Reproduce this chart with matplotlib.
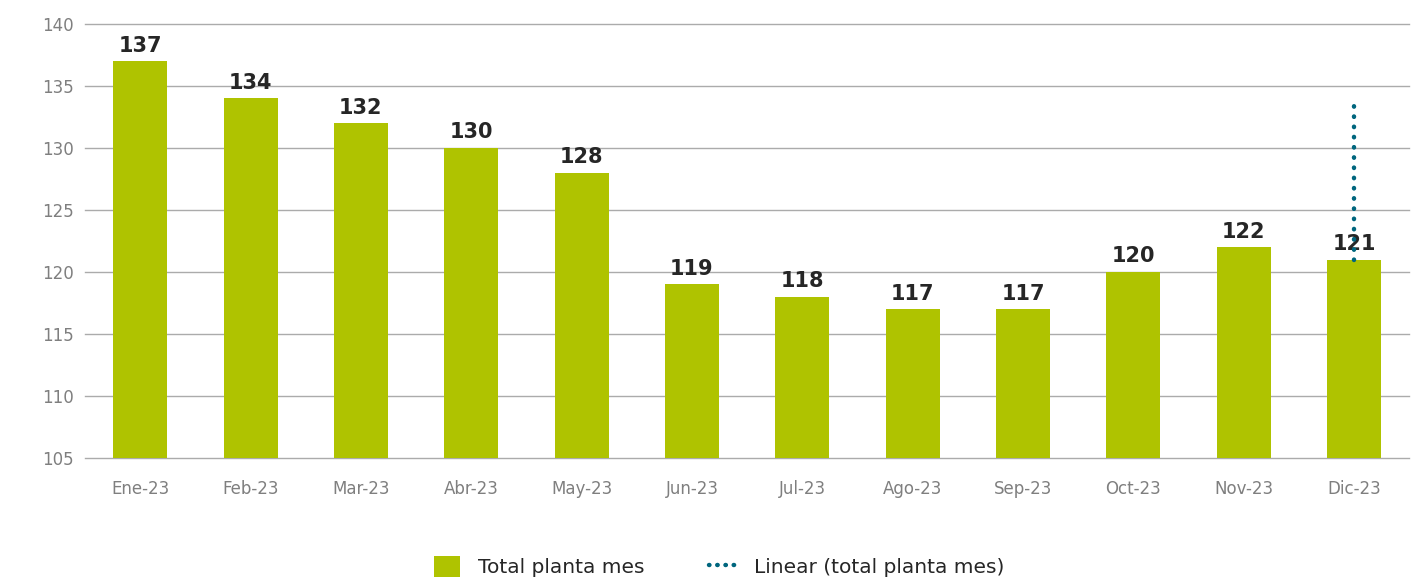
import matplotlib
matplotlib.use("Agg")
import matplotlib.pyplot as plt
from matplotlib.lines import Line2D
from matplotlib.patches import Patch

categories = ["Ene-23", "Feb-23", "Mar-23", "Abr-23", "May-23", "Jun-23",
              "Jul-23", "Ago-23", "Sep-23", "Oct-23", "Nov-23", "Dic-23"]
values = [137, 134, 132, 130, 128, 119, 118, 117, 117, 120, 122, 121]
trend_x = [11, 11]
trend_y = [121, 133.4]
yticks = [105, 110, 115, 120, 125, 130, 135, 140]

bar_color = "#AFC300"
trend_color = "#00667E"

plt.rcParams['font.family'] = ['DejaVu Sans']

fig = plt.figure(figsize=(14.24, 5.8), dpi=100)
ax = fig.add_axes([0.0597, 0.2103, 0.930, 0.7483])

x = list(range(len(categories)))
ax.bar(x, values, width=0.49, color=bar_color, zorder=2)
for xi, v in zip(x, values):
    ax.text(xi, v + 0.45, str(v), ha="center", va="bottom", fontsize=15,
            fontweight="bold", color="#262626", zorder=4)

ax.plot(trend_x, trend_y, linestyle=(0, (0.1, 2.2)), dash_capstyle="round",
        linewidth=3.2, color=trend_color, zorder=5)

ax.set_ylim(105, 140)
ax.set_xlim(-0.5, 11.5)
ax.set_yticks(yticks)
ax.set_xticks(x)
ax.set_xticklabels(categories)
ax.yaxis.grid(True, color="#ABABAB", linewidth=1)
for gl in ax.yaxis.get_gridlines():
    gl.set_clip_on(False)
ax.set_axisbelow(True)
for s in ax.spines.values():
    s.set_visible(False)
ax.tick_params(axis="both", length=0, labelsize=12, colors="#7F7F7F")
ax.tick_params(axis="x", pad=16)
ax.tick_params(axis="y", pad=8)

handles = [Patch(facecolor=bar_color, edgecolor="none"),
           Line2D([0], [0], color=trend_color, linestyle=(0, (0.1, 1.75)),
                  dash_capstyle="round", linewidth=3.2)]
leg = fig.legend(handles, ["Total planta mes", "Linear (total planta mes)"],
                 loc="center", bbox_to_anchor=(0.505, 0.023), ncol=2, frameon=False,
                 fontsize=14.5, handlelength=1.3, handleheight=1.25,
                 columnspacing=3.2, handletextpad=0.9)
for t in leg.get_texts():
    t.set_color("#262626")

fig.savefig("out.png", dpi=100)
